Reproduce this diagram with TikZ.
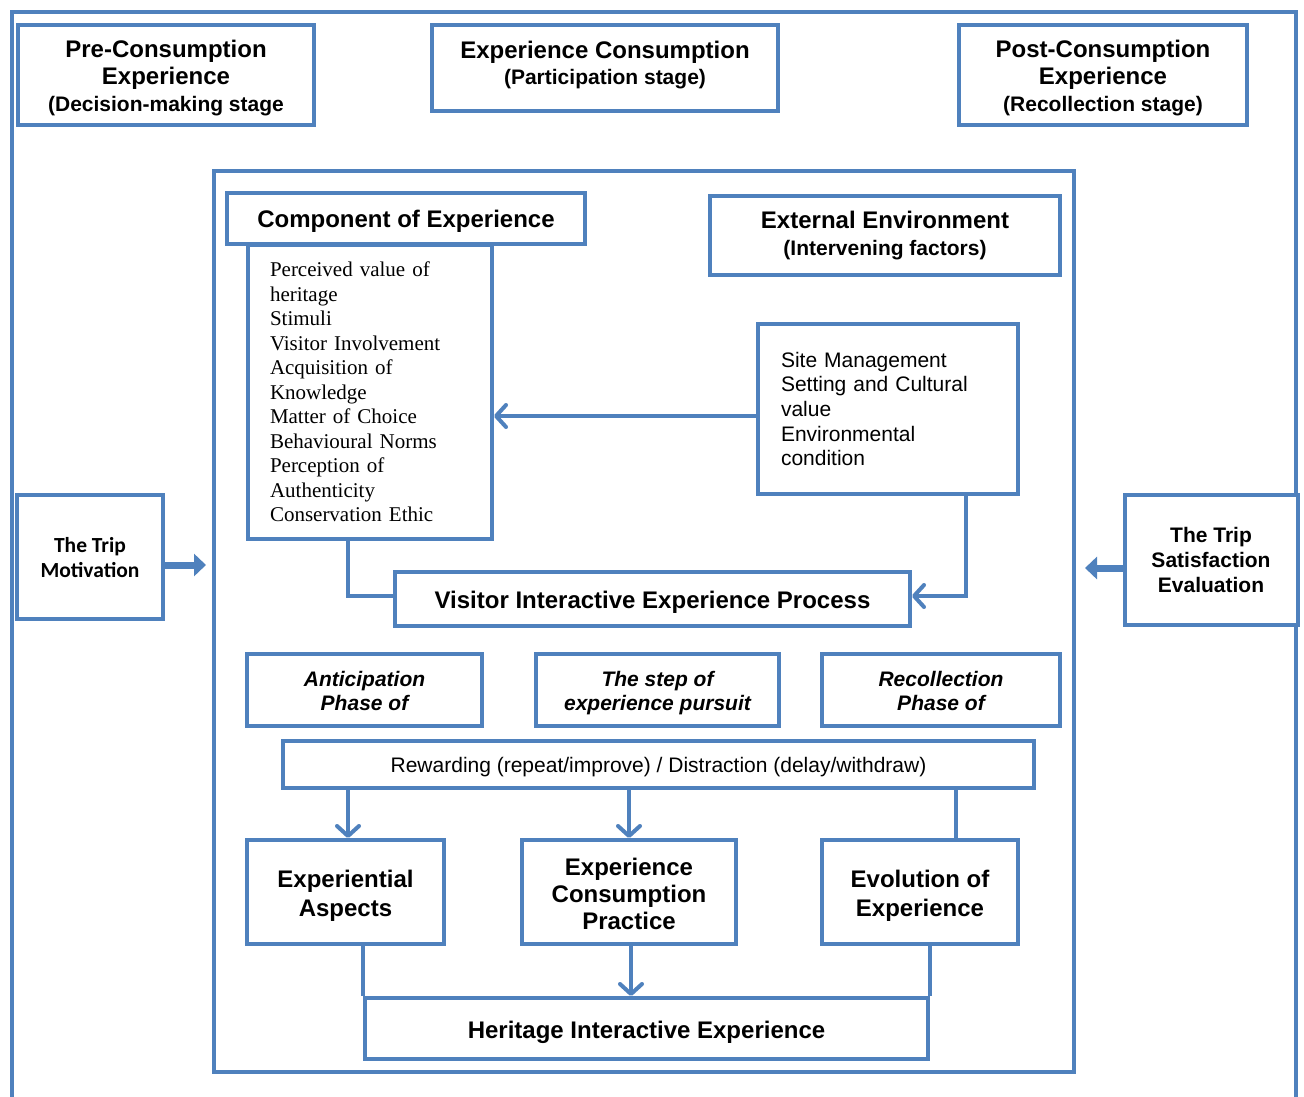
\documentclass[tikz,border=0pt]{standalone}
\usepackage{fontspec}
\setmainfont{Liberation Sans}
\newfontfamily\serifttl{Liberation Serif}
\newfontfamily\calfont{Carlito}
\usetikzlibrary{arrows.meta,calc}
\definecolor{frameblue}{RGB}{79,129,189}
\newcommand\fsz[2]{\fontsize{#1}{#2}\selectfont}
\begin{document}
\begin{tikzpicture}[x=1pt,y=-1pt,
  frame/.style={draw=frameblue,line width=4pt},
  box/.style={draw=frameblue,line width=4pt,fill=white,inner sep=0pt,align=center},
  txt/.style={inner sep=0pt,align=center},
  conn/.style={draw=frameblue,line width=4pt},
  arr/.style={conn,-{Straight Barb[length=10pt,width=22pt,round]}},
  fat/.style={draw=frameblue,line width=7pt,-{Triangle[length=12pt,width=22pt]}},
  ttl/.style={font=\bfseries\fsz{24}{27}}]
\useasboundingbox (0,0) rectangle (1304,1097);
\fill[white] (0,0) rectangle (1304,1097);
% outer frame
\draw[frame] (12,1110) -- (12,12) -- (1296,12) -- (1296,1110);
% inner frame
\node[frame,inner sep=0pt,minimum width=860pt,minimum height=901pt] (inner) at (644,621.5) {};
% stage boxes
\node[box,minimum width=296pt,minimum height=100pt] (pre) at (166,75) {};
\node[txt,ttl] (pre-t) at ($(pre)+(0,3.5)$)
  {Pre-Consumption\\Experience\\{\fsz{21}{26}(Decision-making stage}};
\node[box,minimum width=346pt,minimum height=86pt] (expc) at (605,68) {};
\node[txt,font=\bfseries\fsz{24}{26}] (expc-t) at ($(expc)+(0,-3)$)
  {Experience Consumption\\{\fsz{21}{26}(Participation stage)}};
\node[box,minimum width=288pt,minimum height=100pt] (post) at (1103,75) {};
\node[txt,ttl] (post-t) at ($(post)+(0,3.5)$)
  {Post-Consumption\\Experience\\{\fsz{21}{26}(Recollection stage)}};
% component
\node[box,minimum width=244pt,minimum height=294pt,text width=200pt,align=left,
  font=\serifttl\fsz{21}{24.5}] (list) at (370,392)
  {Perceived value of\\heritage\\Stimuli\\Visitor Involvement\\Acquisition of\\Knowledge\\Matter of Choice\\Behavioural Norms\\Perception of\\Authenticity\\Conservation Ethic};
\node[box,minimum width=358pt,minimum height=51pt] (comp) at (406,218.5) {};
\node[txt,ttl] (comp-t) at ($(comp)+(0,3)$) {Component of Experience};
% external
\node[box,ttl,minimum width=350pt,minimum height=79pt] (ext) at (885,235.5)
  {External Environment\\{\fsz{21}{26}(Intervening factors)}};
\node[box,minimum width=260pt,minimum height=170pt,text width=214pt,align=left,
  font=\fsz{21}{24.7}] (site) at (888,409)
  {Site Management\\Setting and Cultural\\value\\Environmental\\condition};
% trip boxes
\node[box,minimum width=146pt,minimum height=124pt] (tripm) at (90,557) {};
\node[txt,font=\calfont\bfseries\fsz{21.5}{25}] (tripm-t) at ($(tripm)+(0,1)$)
  {The Trip\\Motivation};
\node[box,minimum width=173pt,minimum height=130pt,font=\bfseries\fsz{21}{25}] (trips) at (1211,560)
  {The Trip\\Satisfaction\\Evaluation};
% process
\node[box,minimum width=515pt,minimum height=54pt] (visitor) at (652.5,599) {};
\node[txt,ttl] (visitor-t) at ($(visitor)+(0,3)$) {Visitor Interactive Experience Process};
\node[box,minimum width=235pt,minimum height=72pt] (antic) at (364.5,690) {};
\node[txt,font=\bfseries\itshape\fsz{21}{24}] (antic-t) at ($(antic)+(0,1)$) {Anticipation\\Phase of};
\node[box,minimum width=243pt,minimum height=72pt] (stepp) at (657.5,690) {};
\node[txt,font=\bfseries\itshape\fsz{21}{24}] (stepp-t) at ($(stepp)+(0,3)$) {The step of\\experience pursuit};
\node[box,minimum width=238pt,minimum height=72pt] (recol) at (941,690) {};
\node[txt,font=\bfseries\itshape\fsz{21}{24}] (recol-t) at ($(recol)+(0,1)$) {Recollection\\Phase of};
\node[box,minimum width=751pt,minimum height=47pt] (rew) at (658.5,764.5) {};
\node[txt,font=\fsz{21}{24}] (rew-t) at ($(rew)+(0,3)$)
  {Rewarding (repeat/improve) / Distraction (delay/withdraw)};
\node[box,minimum width=197pt,minimum height=104pt] (expasp) at (345.5,892) {};
\node[txt,font=\bfseries\fsz{24}{29}] (expasp-t) at ($(expasp)+(0,4)$) {Experiential\\Aspects};
\node[box,minimum width=214pt,minimum height=104pt] (ecp) at (629,892) {};
\node[txt,font=\bfseries\fsz{24}{27}] (ecp-t) at ($(ecp)+(0,2)$) {Experience\\Consumption\\Practice};
\node[box,minimum width=196pt,minimum height=104pt] (evol) at (920,892) {};
\node[txt,font=\bfseries\fsz{24}{29}] (evol-t) at ($(evol)+(0,4)$) {Evolution of\\Experience};
\node[box,minimum width=563pt,minimum height=61pt] (herit) at (646.5,1028.5) {};
\node[txt,ttl] (herit-t) at ($(herit)+(0,4)$) {Heritage Interactive Experience};
% connectors
\draw[fat] ($(tripm.east)+(0,8)$) -- ($(tripm.east -| inner.west)+(-6,8)$);
\draw[fat] ($(trips.west)+(0,8)$) -- ($(trips.west -| inner.east)+(9,8)$);
\draw[arr] ($(site.west)+(0,7)$) -- ($(site.west -| list.east)+(0,7)$);
\draw[conn] ($(list.south west)+(102,0)$) |- ($(visitor.west)+(0,-3)$);
\draw[arr] ($(site.south east)+(-54,0)$) |- ($(visitor.east)+(0,-3)$);
\draw[arr] ($(rew.south west)+(67,0)$) -- ($(rew.south west |- expasp.north)+(67,0)$);
\draw[arr] ($(rew.south west)+(348,0)$) -- ($(rew.south west |- ecp.north)+(348,0)$);
\draw[conn] ($(rew.south west)+(675,0)$) -- ($(rew.south west |- evol.north)+(675,0)$);
\draw[conn] (herit.north west |- expasp.south) -- (herit.north west);
\draw[conn] (herit.north east |- evol.south) -- (herit.north east);
\draw[arr] ($(ecp.south)+(2,0)$) -- ($(ecp.south |- herit.north)+(2,0)$);
\end{tikzpicture}
\end{document}
